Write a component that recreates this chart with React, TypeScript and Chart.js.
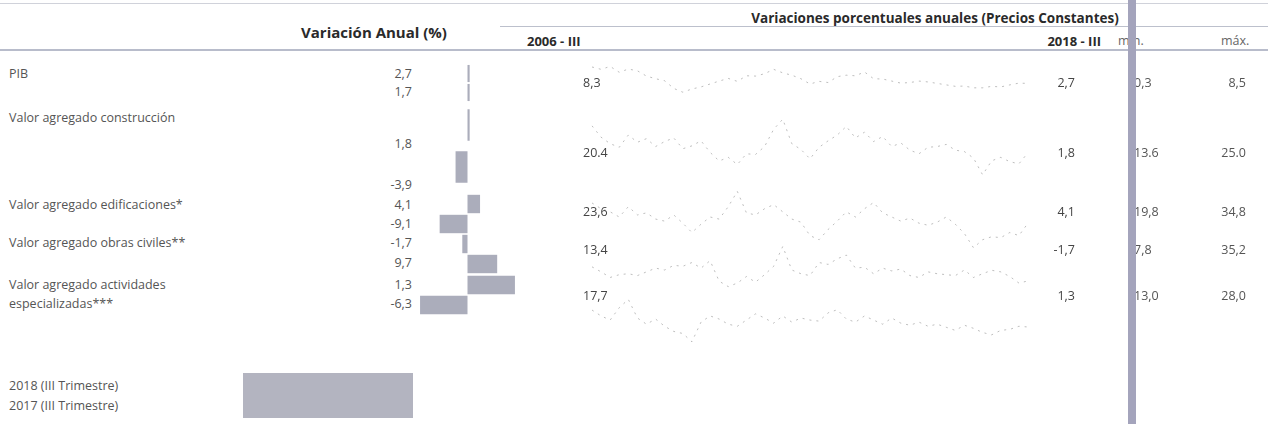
import React, { useEffect, useRef } from "react";
import { Chart, registerables } from "chart.js";

Chart.register(...registerables);

// ---------- data ----------
const rowLabels = [
  "PIB",
  "Valor agregado construcción",
  "Valor agregado edificaciones*",
  "Valor agregado obras civiles**",
  "Valor agregado actividades",
];
const value2018Text = ["2,7", "1,8", "4,1", "-1,7", "1,3"];
const value2017Text = ["1,7", "-3,9", "-9,1", "9,7", "-6,3"];
// visible data-bar lengths
const bar2018 = [0.7, 0.7, 4.1, -1.7, 15.5];
const bar2017 = [0.7, -3.9, -9.1, 9.7, -15.5];

const startText = ["8,3", "20.4", "23,6", "13,4", "17,7"];
const endText = ["2,7", "1,8", "4,1", "-1,7", "1,3"];
const minText = ["-0,3", "-13.6", "-19,8", "-7,8", "-13,0"];
const maxText = ["8,5", "25.0", "34,8", "35,2", "28,0"];

const seriesPIB = [
  8.3, 7.5,
  8.5, 6.5, 7.6, 7.0,
  5.2, 4.3, 3.6, 1.0,
  -0.3, 0.8, 1.5, 2.5,
  3.5, 4.4, 3.4, 5.3,
  5.2, 6.0, 7.5, 6.3,
  5.5, 4.3, 2.5, 3.4,
  3.0, 5.0, 5.5, 5.3,
  6.6, 4.3, 4.2, 3.5,
  2.8, 3.0, 3.5, 3.2,
  2.7, 2.2, 1.7, 1.8,
  1.2, 1.2, 1.7, 1.5,
  2.2, 2.8, 2.7,
];
const seriesConstruccion = [
  20.4, 12.5,
  8.0, 5.5, 14.0, 9.0,
  11.5, 6.0, 9.5, 12.0,
  4.5, 6.5, 10.0, 2.0,
  -4.0, -1.5, -6.5, 1.0,
  0.5, 6.0, 18.0, 25.0,
  8.0, 4.0, -2.5, 5.5,
  10.0, 14.0, 20.0, 12.0,
  16.0, 9.5, 13.0, 6.0,
  8.5, 3.5, 1.0, 5.5,
  6.0, 7.5, 3.5, 2.5,
  -2.0, -13.6, -3.9, -1.5,
  -4.5, -6.0, 1.8,
];
const seriesEdificaciones = [
  23.6, 18.0,
  15.0, 10.0, 20.0, 12.0,
  14.0, 8.0, 6.0, 12.0,
  4.0, -5.0, 3.0, 10.0,
  8.0, 20.0, 34.8, 14.0,
  12.0, 18.0, 22.0, 15.0,
  8.0, 5.0, -8.0, -12.0,
  -2.0, 6.0, 15.0, 10.0,
  18.0, 24.0, 14.0, 10.0,
  6.0, 9.0, 4.0, 2.0,
  5.0, 10.0, 3.0, -6.0,
  -19.8, -12.0, -9.1, -10.0,
  -5.0, -8.0, 4.1,
];
const seriesObras = [
  13.4, 8.0,
  2.0, 5.0, 6.0, 4.0,
  8.0, 12.0, 10.0, 15.0,
  14.0, 18.0, 12.0, 20.0,
  -2.0, -7.8, -4.0, 3.0,
  -3.0, 5.0, 14.0, 35.2,
  10.0, 6.0, 4.0, 18.0,
  16.0, 22.0, 26.0, 12.0,
  13.0, 6.0, 12.0, 9.0,
  11.0, 4.0, 2.0, 8.0,
  6.0, 5.0, 4.0, 10.0,
  2.0, 6.0, 9.7, 8.0,
  3.0, -4.0, -1.7,
];
const seriesActividades = [
  17.7, 12.0,
  8.0, 20.0, 28.0, 10.0,
  4.0, 9.0, 2.0, -3.0,
  -5.0, -13.0, 6.0, 12.0,
  9.0, 4.0, 2.0, 8.0,
  14.0, 10.0, 5.0, 12.0,
  6.0, 10.0, 8.0, 7.0,
  15.0, 18.0, 9.0, 6.0,
  12.0, 8.0, 4.0, 10.0,
  5.0, 3.0, 6.0, 2.0,
  4.0, 1.0, -2.0, 3.0,
  0.0, -4.0, -6.3, -2.0,
  -1.0, 2.0, 1.3,
];

const romans = ["I", "II", "III", "IV"];
const quarterLabels: string[] = [];
for (let y = 2006; y <= 2018; y++) {
  for (let q = 0; q < 4; q++) {
    if ((y === 2006 && q < 2) || (y === 2018 && q > 2)) continue;
    quarterLabels.push(`${y}-${romans[q]}`);
  }
}

const FONT = "'Open Sans', 'Noto Sans', sans-serif";
const BAR_COLOR = "#abadbb";

// ---------- components ----------
function Spark({ data, left, top, width, height }: any) {
  const ref = useRef<HTMLCanvasElement>(null);
  useEffect(() => {
    const ch = new Chart(ref.current!, {
      type: "line",
      data: {
        labels: quarterLabels,
        datasets: [
          {
            data,
            borderColor: "rgba(110,110,110,0.45)",
            borderWidth: 1,
            borderDash: [2, 5],
            pointRadius: 0,
            tension: 0,
          },
        ],
      },
      options: {
        animation: false,
        responsive: false,
        maintainAspectRatio: false,
        plugins: { legend: { display: false }, tooltip: { enabled: false } },
        scales: { x: { display: false }, y: { display: false } },
        layout: { padding: 2 },
      },
    });
    return () => ch.destroy();
  }, []);
  return (
    <canvas
      ref={ref}
      width={width}
      height={height}
      style={{ position: "absolute", left, top, width, height }}
    />
  );
}

function BarRow({ vals, top, height, pct }: any) {
  const ref = useRef<HTMLCanvasElement>(null);
  useEffect(() => {
    const ch = new Chart(ref.current!, {
      type: "bar",
      data: {
        labels: ["2018", "2017"],
        datasets: [
          {
            data: vals,
            backgroundColor: BAR_COLOR,
            barPercentage: pct,
            categoryPercentage: 1,
          },
        ],
      },
      options: {
        indexAxis: "y",
        animation: false,
        responsive: false,
        maintainAspectRatio: false,
        plugins: { legend: { display: false }, tooltip: { enabled: false } },
        scales: {
          x: { display: false, min: -16.5, max: 16.5 },
          y: { display: false },
        },
        layout: { padding: 0 },
      },
    });
    return () => ch.destroy();
  }, []);
  return (
    <canvas
      ref={ref}
      width={101}
      height={height}
      style={{ position: "absolute", left: 417, top, width: 101, height }}
    />
  );
}

function T({ x, y, text, align = "left", bold = false, size = 12.5, color = "#555" }: any) {
  const w = 500;
  let left = x;
  if (align === "right") left = x - w;
  if (align === "center") left = x - w / 2;
  return (
    <div
      style={{
        position: "absolute",
        left,
        top: y - 9,
        width: w,
        height: 18,
        lineHeight: "18px",
        fontSize: size,
        fontWeight: bold ? 700 : 400,
        color,
        textAlign: align,
        whiteSpace: "nowrap",
        fontFamily: FONT,
      }}
    >
      {text}
    </div>
  );
}

function HLine({ x1, x2, y, h = 1, color = "#b4b8c8" }: any) {
  return (
    <div
      style={{ position: "absolute", left: x1, top: y, width: x2 - x1, height: h, background: color }}
    />
  );
}

export default function App() {
  const labelY = [74, 118, 205, 243, 285];
  const v18Y = [74, 144, 205, 243, 285];
  const v17Y = [92, 185, 224, 263, 304];
  const sparkY = [83, 153, 212, 250, 296];
  const series = [seriesPIB, seriesConstruccion, seriesEdificaciones, seriesObras, seriesActividades];
  const sparkBox = [
    [60, 48],
    [110, 76],
    [184, 66],
    [240, 60],
    [285, 66],
  ];
  const barBox = [
    [64, 38, 0.9],
    [104, 84, 0.75],
    [194, 40, 0.92],
    [234, 40, 0.92],
    [275, 40, 0.92],
  ];

  return (
    <div
      style={{
        position: "absolute",
        left: 0,
        top: 0,
        width: 1268,
        height: 424,
        background: "#fff",
        overflow: "hidden",
        fontFamily: FONT,
      }}
    >
      <HLine x1={0} x2={1268} y={3} color="#d0d2da" />
      <HLine x1={500} x2={1268} y={26} color="#bcc0cc" />
      <HLine x1={0} x2={1268} y={49} h={2} color="#b8bccb" />

      <T x={935} y={18} text="Variaciones porcentuales anuales  (Precios Constantes)" align="center" bold size={13.5} color="#2a2a2a" />
      <T x={374} y={32} text="Variación Anual (%)" align="center" bold size={15} color="#2a2a2a" />
      <T x={527} y={41} text="2006 - III" bold size={13} color="#2a2a2a" />
      <T x={1101} y={41} text="2018 - III" align="right" bold size={13} color="#2a2a2a" />
      <T x={1118} y={41} text="min." color="#666" />
      <T x={1221} y={41} text="máx." color="#666" />

      {rowLabels.map((l, i) => (
        <T key={"l" + i} x={9} y={labelY[i]} text={l} />
      ))}
      <T x={9} y={304} text="especializadas***" />

      {value2018Text.map((v, i) => (
        <T key={"a" + i} x={412} y={v18Y[i]} text={v} align="right" />
      ))}
      {value2017Text.map((v, i) => (
        <T key={"b" + i} x={412} y={v17Y[i]} text={v} align="right" />
      ))}

      {barBox.map((b, i) => (
        <BarRow key={"br" + i} vals={[bar2018[i], bar2017[i]]} top={b[0]} height={b[1]} pct={b[2]} />
      ))}

      {series.map((s, i) => (
        <Spark key={"s" + i} data={s} left={590} top={sparkBox[i][0]} width={440} height={sparkBox[i][1]} />
      ))}

      {startText.map((v, i) => (
        <T key={"st" + i} x={583} y={sparkY[i]} text={v} color="#444" />
      ))}
      {endText.map((v, i) => (
        <T key={"en" + i} x={1075} y={sparkY[i]} text={v} align="right" color="#444" />
      ))}
      {minText.map((v, i) => (
        <T key={"mi" + i} x={1130} y={sparkY[i]} text={v} color="#555" />
      ))}
      {maxText.map((v, i) => (
        <T key={"ma" + i} x={1246} y={sparkY[i]} text={v} align="right" color="#555" />
      ))}

      <div style={{ position: "absolute", left: 243, top: 373, width: 170, height: 45, background: "#b3b4c0" }} />
      <T x={9} y={386} text="2018 (III Trimestre)" />
      <T x={9} y={406} text="2017 (III Trimestre)" />

      <div style={{ position: "absolute", left: 1128, top: 0, width: 8, height: 424, background: "#a4a4bc" }} />
    </div>
  );
}
